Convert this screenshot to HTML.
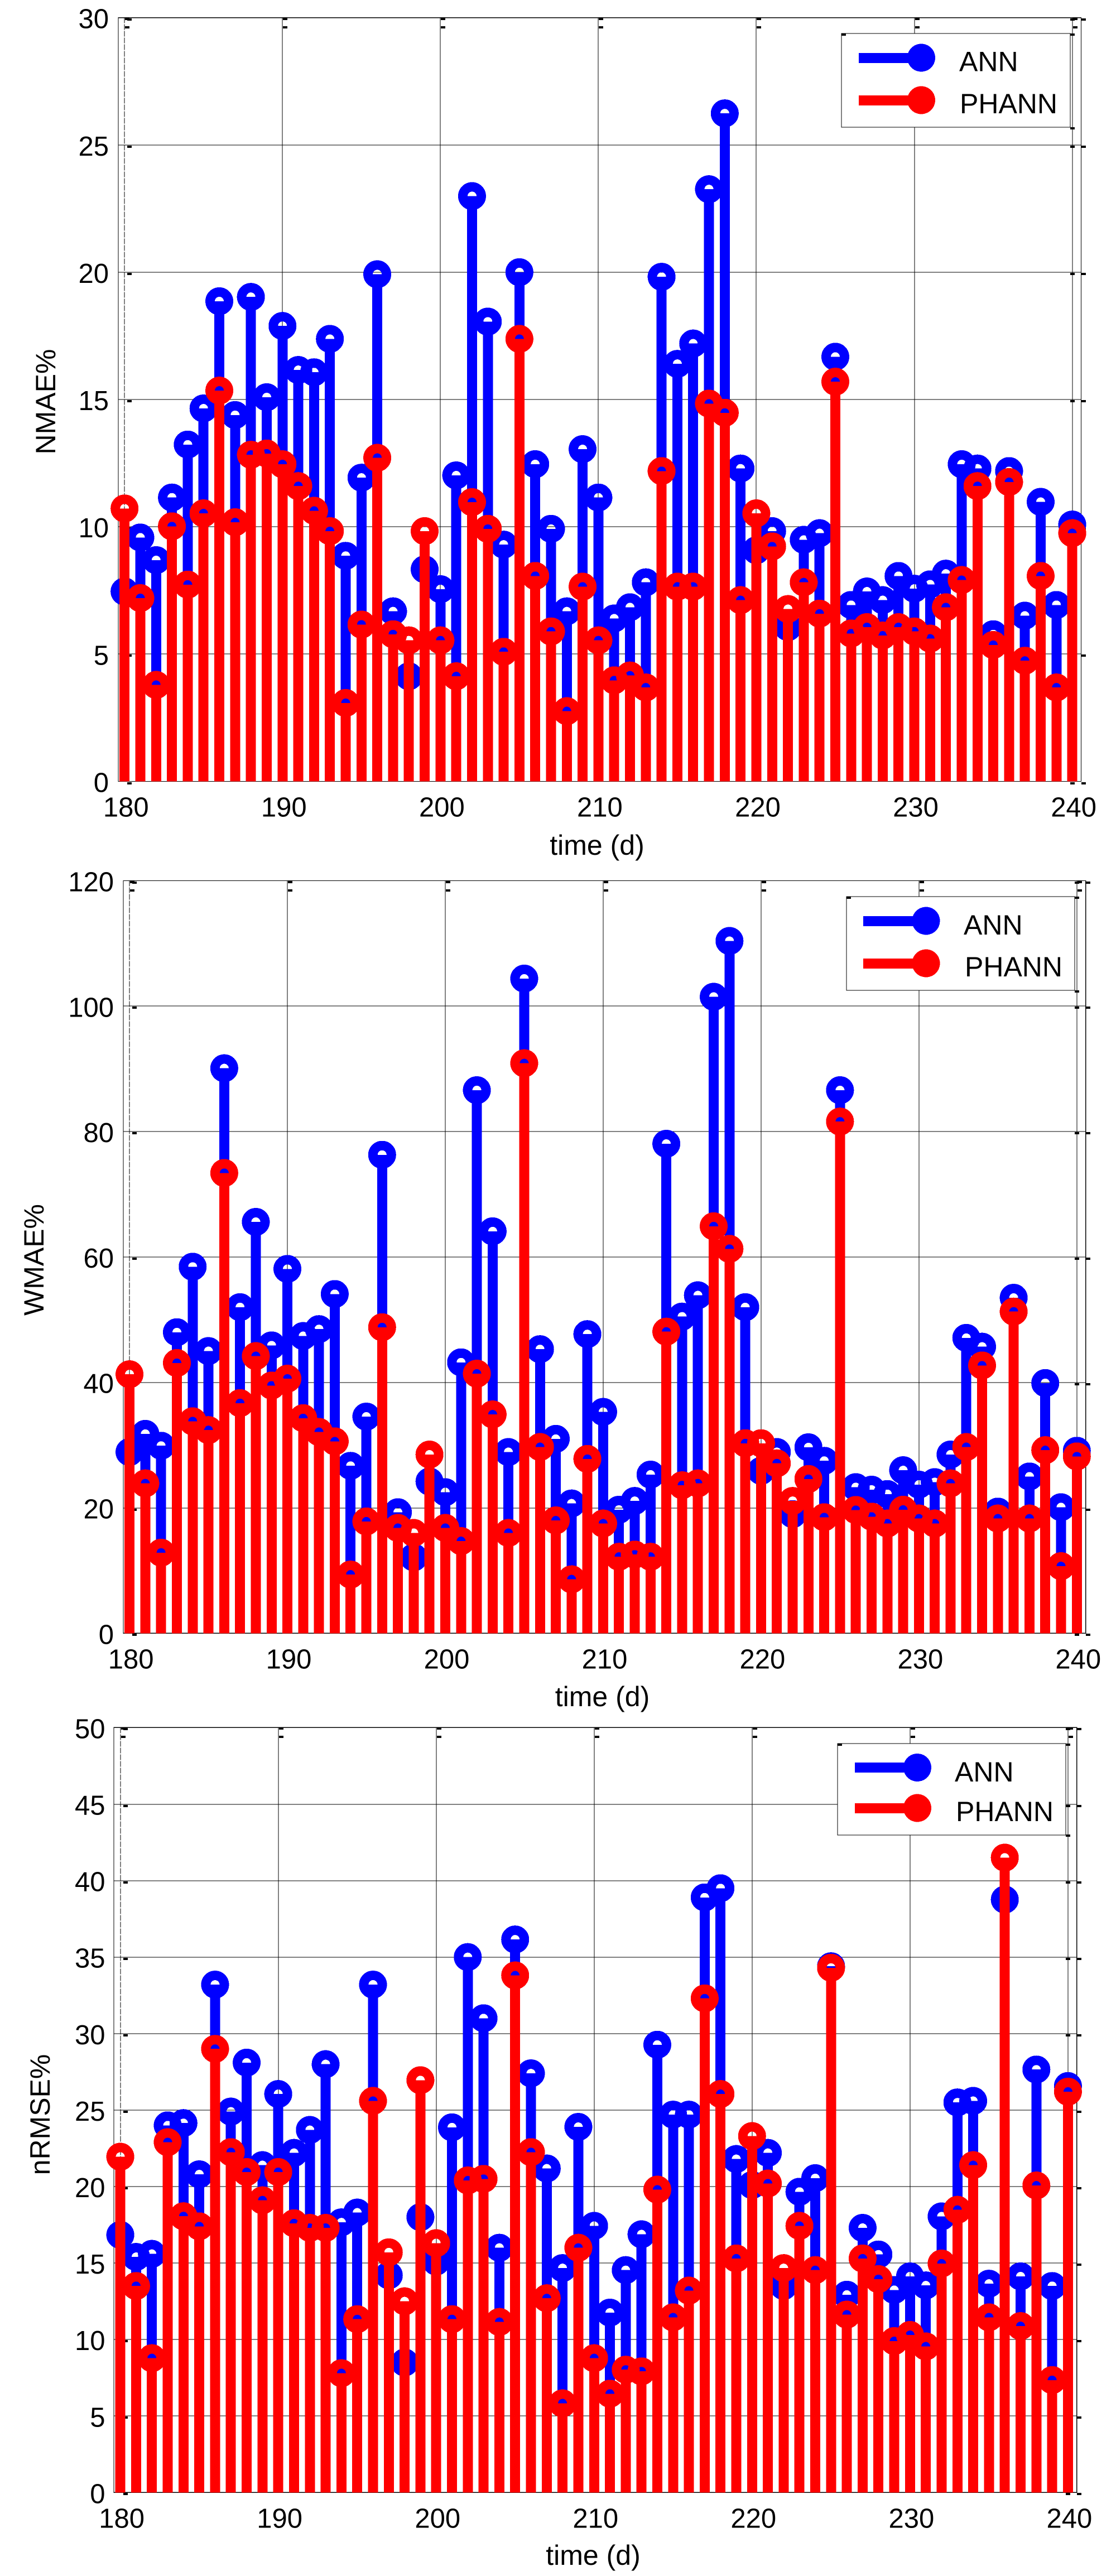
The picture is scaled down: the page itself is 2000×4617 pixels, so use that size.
<!DOCTYPE html>
<html lang="en">
<head>
<meta charset="utf-8">
<title>NMAE, WMAE and nRMSE: ANN vs PHANN</title>
<style>
  html, body { margin: 0; padding: 0; background: #fff; }
  body { width: 2000px; height: 4617px; overflow: hidden; }
  svg { display: block; shape-rendering: crispEdges; }
  text { font-family: "Liberation Sans", Arial, sans-serif; fill: #000; }
  .tick { font-size: 49px; }
  .title { font-size: 50px; }
  .legend-text { font-size: 50px; }
</style>
</head>
<body>
<svg id="figure" xmlns="http://www.w3.org/2000/svg" width="2000" height="4617" viewBox="0 0 2000 4617">
  <rect x="0" y="0" width="2000" height="4617" fill="#fff"/>

  <g id="panel-nmae">
    <g class="axes"></g>
    <g class="marks"></g>
    <text class="title" x="1070" y="1532" text-anchor="middle">time (d)</text>
    <text class="title" transform="translate(99 720) rotate(-90)" text-anchor="middle">NMAE%</text>
    <g>
      <rect x="1508" y="60" width="410" height="168" fill="#fff" stroke="#000" stroke-width="1.3"/>
      <rect x="1508" y="60" width="8" height="4" fill="#000"/>
      <rect x="1918" y="60" width="8" height="4" fill="#000"/>
      <rect x="1918" y="228" width="8" height="4" fill="#000"/>
      <g>
        <rect x="1539" y="95" width="112" height="18" fill="#00f"/>
        <circle cx="1651" cy="103.5" r="25" fill="#00f"/>
        <text class="legend-text" x="1719" y="127.5">ANN</text>
      </g>
      <g>
        <rect x="1539" y="171" width="112" height="18" fill="#f00"/>
        <circle cx="1651" cy="179.5" r="25" fill="#f00"/>
        <text class="legend-text" x="1720" y="203">PHANN</text>
      </g>
    </g>
  </g>

  <g id="panel-wmae">
    <g class="axes"></g>
    <g class="marks"></g>
    <text class="title" x="1079.5" y="3058" text-anchor="middle">time (d)</text>
    <text class="title" transform="translate(78 2258) rotate(-90)" text-anchor="middle">WMAE%</text>
    <g>
      <rect x="1517" y="1607" width="409" height="168" fill="#fff" stroke="#000" stroke-width="1.3"/>
      <rect x="1517" y="1607" width="8" height="4" fill="#000"/>
      <rect x="1926" y="1607" width="8" height="4" fill="#000"/>
      <rect x="1926" y="1775" width="8" height="4" fill="#000"/>
      <g>
        <rect x="1547" y="1642" width="112" height="18" fill="#00f"/>
        <circle cx="1659.5" cy="1650.5" r="25" fill="#00f"/>
        <text class="legend-text" x="1727" y="1675">ANN</text>
      </g>
      <g>
        <rect x="1547" y="1718" width="112" height="18" fill="#f00"/>
        <circle cx="1659.5" cy="1726.5" r="25" fill="#f00"/>
        <text class="legend-text" x="1729" y="1750">PHANN</text>
      </g>
    </g>
  </g>

  <g id="panel-nrmse">
    <g class="axes"></g>
    <g class="marks"></g>
    <text class="title" x="1063" y="4597" text-anchor="middle">time (d)</text>
    <text class="title" transform="translate(89 3790) rotate(-90)" text-anchor="middle">nRMSE%</text>
    <g>
      <rect x="1501" y="3125" width="409" height="164" fill="#fff" stroke="#000" stroke-width="1.3"/>
      <rect x="1501" y="3125" width="8" height="4" fill="#000"/>
      <rect x="1910" y="3125" width="8" height="4" fill="#000"/>
      <rect x="1910" y="3288" width="8" height="4" fill="#000"/>
      <g>
        <rect x="1532" y="3159" width="112" height="18" fill="#00f"/>
        <circle cx="1644" cy="3168" r="25" fill="#00f"/>
        <text class="legend-text" x="1711" y="3193">ANN</text>
      </g>
      <g>
        <rect x="1532" y="3232" width="112" height="18" fill="#f00"/>
        <circle cx="1644" cy="3240.5" r="25" fill="#f00"/>
        <text class="legend-text" x="1713" y="3264">PHANN</text>
      </g>
    </g>
  </g>
</svg>

<script>
const days = [180,181,182,183,184,185,186,187,188,189,190,191,192,193,194,195,196,197,198,199,200,201,202,203,204,205,206,207,208,209,210,211,212,213,214,215,216,217,218,219,220,221,222,223,224,225,226,227,228,229,230,231,232,233,234,235,236,237,238,239,240];
const xTicks = [180,190,200,210,220,230,240];

const nmaeTicks = [0,5,10,15,20,25,30];
const nmaeAnn = [7.46,9.58,8.69,11.15,13.23,14.65,18.86,14.39,19.03,15.09,17.89,16.16,16.07,17.38,8.86,11.93,19.92,6.68,4.13,8.33,7.55,12.02,22.99,18.06,9.3,20.0,12.46,9.92,6.68,13.05,11.15,6.4,6.84,7.82,19.82,16.4,17.2,23.26,26.24,12.29,9.08,9.83,6.06,9.49,9.75,16.68,6.93,7.46,7.12,8.07,7.57,7.74,8.16,12.46,12.29,5.78,12.19,6.51,10.98,6.93,10.09];
const nmaePhann = [10.72,7.2,3.79,10.02,7.73,10.53,15.35,10.18,12.83,12.88,12.46,11.6,10.63,9.83,3.08,6.16,12.71,5.78,5.54,9.83,5.54,4.13,10.97,9.92,5.09,17.38,8.07,5.89,2.76,7.65,5.54,3.97,4.16,3.69,12.19,7.65,7.65,14.84,14.48,7.12,10.53,9.23,6.77,7.82,6.59,15.7,5.81,6.06,5.73,6.06,5.89,5.61,6.84,7.91,11.6,5.36,11.76,4.74,8.07,3.69,9.75];

const wmaeTicks = [0,20,40,60,80,100,120];
const wmaeAnn = [28.9,31.8,29.9,48.0,58.45,45.0,90.1,52.0,65.6,45.9,58.1,47.4,48.5,54.1,26.7,34.55,76.3,19.3,12.1,24.2,22.5,43.2,86.6,64.1,28.9,104.4,45.3,31.0,20.7,47.7,35.3,19.7,21.1,25.3,78.06,50.5,53.9,101.5,110.4,52.0,25.9,28.9,19.0,29.66,27.5,86.6,23.3,22.9,22.2,26.0,23.7,24.1,28.5,47.1,45.7,19.4,53.5,25.0,39.9,20.1,29.1];
const wmaePhann = [41.3,23.9,12.85,43.1,33.8,32.4,73.4,36.7,44.2,39.5,40.6,34.3,32.1,30.6,9.36,17.83,48.8,16.8,16.0,28.5,16.8,14.7,41.4,34.9,16.0,90.9,29.7,18.0,8.6,27.8,17.5,12.2,12.55,12.2,48.1,23.6,23.9,64.9,61.3,30.3,30.3,27.1,21.1,24.6,18.5,81.6,19.66,18.6,17.5,19.7,18.3,17.5,23.9,29.7,42.7,18.3,51.3,18.3,29.2,10.7,28.2];

const nrmseTicks = [0,5,10,15,20,25,30,35,40,45,50];
const nrmseAnn = [16.84,15.4,15.6,24.0,24.15,20.8,33.2,24.9,28.1,21.4,26.05,22.2,23.7,28.0,17.66,18.3,33.2,14.2,8.5,18.0,15.1,23.87,35.0,31.0,16.0,36.15,27.4,21.18,14.67,23.9,17.43,11.76,14.54,16.88,29.27,24.7,24.7,38.9,39.5,21.8,20.1,22.2,13.5,19.66,20.55,34.4,12.93,17.3,15.56,13.24,14.13,13.54,18.05,25.5,25.6,13.65,38.76,14.13,27.65,13.5,26.57];
const nrmsePhann = [21.95,13.5,8.78,22.9,18.06,17.4,29.0,22.25,20.95,19.1,20.95,17.6,17.3,17.3,7.8,11.33,25.6,15.7,12.5,26.95,16.3,11.33,20.4,20.5,11.15,33.8,22.25,12.7,5.83,16.0,8.78,6.46,8.03,7.92,19.8,11.45,13.2,32.3,26.05,15.3,23.3,20.2,14.67,17.43,14.54,34.3,11.63,15.3,13.95,9.9,10.3,9.55,14.97,18.48,21.4,11.45,41.5,10.88,20.07,7.35,26.2];

const SVGNS = 'http://www.w3.org/2000/svg';

function make(tag, parent, attrs) {
  const el = document.createElementNS(SVGNS, tag);
  for (const k in attrs) el.setAttribute(k, attrs[k]);
  parent.appendChild(el);
  return el;
}

function drawPanel(prefix, id, box, yTicks, ann, phann) {
  const root = document.getElementById(id);
  const axes = root.querySelector('.axes');
  const marks = root.querySelector('.marks');
  const yMax = yTicks[yTicks.length - 1];
  const xDomainMin = xTicks[0];
  const xDomainMax = xTicks[xTicks.length - 1];

  const xScale = function (d) {
    return box.x180 + (d - xDomainMin) * (box.x240 - box.x180) / (xDomainMax - xDomainMin);
  };
  const yScale = function (v) {
    return box.bottom - v * (box.bottom - box.top) / yMax;
  };

  yTicks.forEach(function (t) {
    const y = Math.round(yScale(t));
    if (t !== 0 && t !== yMax) {
      const g = make('line', axes, { x1: box.left, x2: box.right, y1: y, y2: y, stroke: '#000', 'stroke-width': 1.2 });
      
      
    }
    const m1 = make('rect', axes, { x: Math.round(box.x180) + 5, y: y + 1, width: 8, height: 4, fill: '#000' });
    
    
    const m2 = make('rect', axes, { x: Math.round(box.x240) - 4, y: y + 1, width: 8, height: 4, fill: '#000' });
    
    
    const m3 = make('rect', axes, { x: Math.round(box.right), y: y + 1, width: 8, height: 4, fill: '#000' });
    
    
    const lab = make('text', axes, { x: box.yLabelRight, y: yScale(t) + 19, 'text-anchor': 'end', 'class': 'tick' });
    lab.textContent = String(t);
    
    
  });

  xTicks.forEach(function (t) {
    const x = Math.round(xScale(t));
    const g = make('line', axes, { x1: x, x2: x, y1: box.top, y2: box.bottom, stroke: '#000', 'stroke-width': 1.2 });
    if (t === xDomainMin) g.setAttribute('stroke-dasharray', '10 2');
    
    
    const m1 = make('rect', axes, { x: x + 1, y: Math.round(box.top), width: 8, height: 4, fill: '#000' });
    
    
    const m2 = make('rect', axes, { x: x + 1, y: Math.round(box.top) + 15, width: 8, height: 4, fill: '#000' });
    
    
    const lab = make('text', axes, { x: xScale(t) + 2.5, y: box.bottom + 63, 'text-anchor': 'middle', 'class': 'tick' });
    lab.textContent = String(t);
    
    
  });

  const frame = make('rect', axes, { x: box.left, y: box.top, width: box.right - box.left, height: box.bottom - box.top, fill: 'none', stroke: '#000', 'stroke-width': 1.3 });
  
  

  const series = [
    { name: 'ann', color: '#00f', values: ann },
    { name: 'phann', color: '#f00', values: phann }
  ];
  series.forEach(function (s) {
    const g = make('g', marks, {});
    
    
    s.values.forEach(function (v, i) {
      const x = xScale(days[i]);
      const y = yScale(v);
      const stem = make('line', g, { x1: x, x2: x, y1: box.bottom, y2: y, stroke: s.color, 'stroke-width': 18 });
      
      
      const dot = make('circle', g, { cx: x, cy: y, r: 16.5, fill: 'none', stroke: s.color, 'stroke-width': 17 });
      
      
    });
  });
}

drawPanel('nmae', 'panel-nmae',
  { left: 212, right: 1937.5, top: 31.6, bottom: 1400.5, x180: 223.2, x240: 1921.6, yLabelRight: 195 },
  nmaeTicks, nmaeAnn, nmaePhann);
drawPanel('wmae', 'panel-wmae',
  { left: 221, right: 1945.8, top: 1578.6, bottom: 2927.3, x180: 232.1, x240: 1929.8, yLabelRight: 204 },
  wmaeTicks, wmaeAnn, wmaePhann);
drawPanel('nrmse', 'panel-nrmse',
  { left: 204, right: 1929.8, top: 3096.4, bottom: 4467.4, x180: 215.6, x240: 1913.9, yLabelRight: 188.5 },
  nrmseTicks, nrmseAnn, nrmsePhann);
</script>
</body>
</html>
